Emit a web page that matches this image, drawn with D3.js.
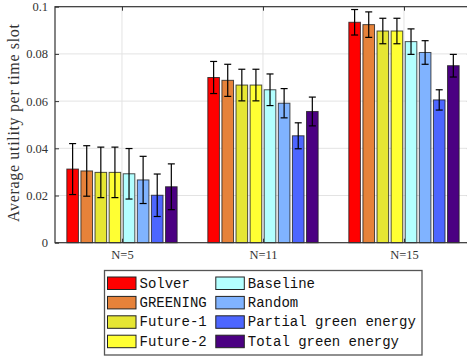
<!DOCTYPE html>
<html>
<head>
<meta charset="utf-8">
<script src="https://cdn.jsdelivr.net/npm/d3@7"></script>
<style>
  body { margin: 0; background: #fff; }
  svg { display: block; }
  .tick text { font-family: "Liberation Serif", serif; font-size: 12.5px; fill: #333; }
  .ylabel { font-family: "Liberation Serif", serif; font-size: 16px; fill: #333; }
  .legend text { font-family: "Liberation Mono", monospace; font-size: 14px; fill: #111; }
</style>
</head>
<body>
<svg id="chart"></svg>
<script>
// data
var groups = ["N=5", "N=11", "N=15"];
var methods = ["Solver", "GREENING", "Future-1", "Future-2", "Baseline", "Random", "Partial green energy", "Total green energy"];
var colors = ["#ff0000", "#e6823a", "#e6e633", "#ffff33", "#b3ffff", "#80b3ff", "#4d66ff", "#4b0082"];
var values = [
  [0.0312, 0.0304, 0.0298, 0.0298, 0.0292, 0.0266, 0.0201, 0.0237],
  [0.0700, 0.0688, 0.0668, 0.0668, 0.0648, 0.0591, 0.0453, 0.0556],
  [0.0934, 0.0924, 0.0897, 0.0897, 0.0852, 0.0806, 0.0605, 0.0750]
];
var errors = [
  [0.0108, 0.0107, 0.0107, 0.0107, 0.0107, 0.0100, 0.0090, 0.0097],
  [0.0068, 0.0068, 0.0067, 0.0067, 0.0067, 0.0062, 0.0055, 0.0061],
  [0.0054, 0.0054, 0.0054, 0.0054, 0.0054, 0.0050, 0.0043, 0.0048]
];
var yTicks = [0, 0.02, 0.04, 0.06, 0.08, 0.1];

var W = 467, H = 362;
var plotLeft = 55, plotTop = 6.7, plotBottom = 242.7;

var svg = d3.select("#chart").attr("width", W).attr("height", H);

// x is linear over group index, like matlab's bar plot
var x = d3.scaleLinear().domain([0.525, 3.475]).range([plotLeft, plotLeft + 2.95 * 141]);
var y = d3.scaleLinear().domain([0, 0.1]).range([plotBottom, plotTop]);
var pitch = 14.1, barW = 11.6;

var plot = svg.append("g");

// grid
plot.selectAll(".hgrid").data(yTicks.slice(1, -1)).enter().append("line")
    .attr("x1", x.range()[0]).attr("x2", x.range()[1])
    .attr("y1", function(d) { return y(d); }).attr("y2", function(d) { return y(d); })
    .attr("stroke", "#e3e3e3").attr("stroke-width", 1);
plot.selectAll(".vgrid").data(groups).enter().append("line")
    .attr("x1", function(d, i) { return x(i + 1); }).attr("x2", function(d, i) { return x(i + 1); })
    .attr("y1", plotTop).attr("y2", plotBottom)
    .attr("stroke", "#e3e3e3").attr("stroke-width", 1);

// bars
groups.forEach(function(g, gi) {
  var cx = x(gi + 1);
  values[gi].forEach(function(v, mi) {
    var bx = cx + (mi - 3.5) * pitch;
    plot.append("rect")
        .attr("x", bx - barW / 2)
        .attr("y", y(v))
        .attr("width", barW)
        .attr("height", y(0) - y(v))
        .attr("fill", colors[mi])
        .attr("stroke", "#222")
        .attr("stroke-opacity", 0.8)
        .attr("stroke-width", 1);
    var e = errors[gi][mi];
    var eb = plot.append("g").attr("stroke", "#000").attr("stroke-width", 1.2);
    eb.append("line").attr("x1", bx).attr("x2", bx).attr("y1", y(v + e)).attr("y2", y(v - e));
    eb.append("line").attr("x1", bx - 3.5).attr("x2", bx + 3.5).attr("y1", y(v + e)).attr("y2", y(v + e));
    eb.append("line").attr("x1", bx - 3.5).attr("x2", bx + 3.5).attr("y1", y(v - e)).attr("y2", y(v - e));
  });
});

// box
plot.append("rect")
    .attr("x", x.range()[0]).attr("y", plotTop)
    .attr("width", x.range()[1] - x.range()[0]).attr("height", plotBottom - plotTop)
    .attr("fill", "none").attr("stroke", "#333").attr("stroke-width", 1.2);

function styleAxis(g) {
  g.select(".domain").remove();
  g.selectAll("line").attr("stroke", "#333");
}

// axes
var yAxis = d3.axisLeft(y).tickValues(yTicks)
    .tickFormat(function(d) { return d === 0 ? "0" : String(+d.toFixed(2)); })
    .tickSizeInner(-4).tickSizeOuter(0).tickPadding(7);
svg.append("g").attr("transform", "translate(" + plotLeft + ",0)").call(yAxis).call(styleAxis);
svg.append("g").attr("transform", "translate(" + x.range()[1] + ",0)")
    .call(d3.axisRight(y).tickValues(yTicks).tickFormat("").tickSizeInner(-4).tickSizeOuter(0))
    .call(styleAxis);

var xAxis = d3.axisBottom(x).tickValues([1, 2, 3]).tickFormat(function(d) { return groups[d - 1]; })
    .tickSizeInner(-4).tickSizeOuter(0).tickPadding(7);
svg.append("g").attr("transform", "translate(0," + plotBottom + ")").call(xAxis).call(styleAxis);
svg.append("g").attr("transform", "translate(0," + plotTop + ")")
    .call(d3.axisTop(x).tickValues([1, 2, 3]).tickFormat("").tickSizeInner(-4).tickSizeOuter(0))
    .call(styleAxis);

svg.append("text").attr("class", "ylabel")
    .attr("transform", "translate(18.5,123)rotate(-90)")
    .attr("text-anchor", "middle")
    .attr("textLength", 198)
    .attr("lengthAdjust", "spacing")
    .text("Average utility per time slot");

// legend
var legend = svg.append("g").attr("class", "legend");
legend.append("rect")
    .attr("x", 104.5).attr("y", 270.5).attr("width", 317.5).attr("height", 84.5)
    .attr("fill", "#fff").attr("stroke", "#555").attr("stroke-width", 1.3);
var item = legend.selectAll(".item").data(methods).enter().append("g")
    .attr("transform", function(d, i) {
      var col = Math.floor(i / 4), row = i % 4;
      return "translate(" + (107.5 + col * 108.3) + "," + (277 + row * 19.4) + ")";
    });
item.append("rect").attr("width", 28.5).attr("height", 12.5)
    .attr("fill", function(d, i) { return colors[i]; })
    .attr("stroke", "#222").attr("stroke-width", 1);
item.append("text").attr("x", 32).attr("y", 10.5).text(function(d) { return d; });
</script>
</body>
</html>
